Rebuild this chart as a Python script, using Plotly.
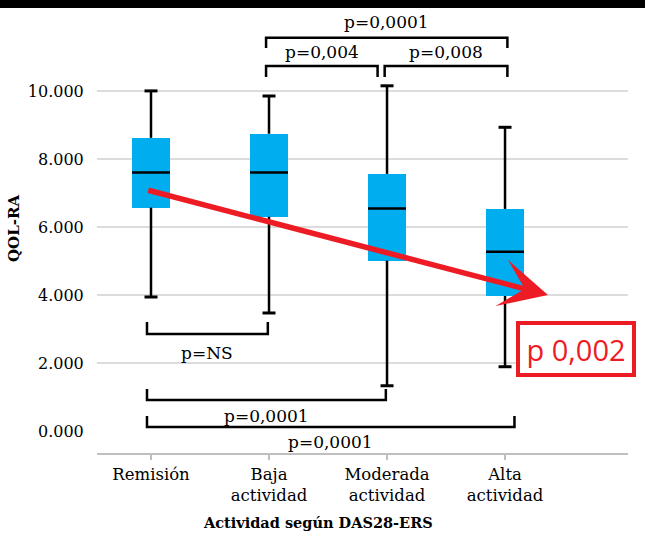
import plotly.graph_objects as go

# ---- data ----
categories = ["Remisión", "Baja<br>actividad", "Moderada<br>actividad", "Alta<br>actividad"]
q1 = [6.57, 6.30, 5.01, 3.97]
median = [7.60, 7.60, 6.54, 5.27]
q3 = [8.62, 8.74, 7.56, 6.53]
lower = [3.94, 3.47, 1.33, 1.89]
upper = [10.00, 9.85, 10.15, 8.93]
ytick_vals = [0, 2, 4, 6, 8, 10]
ytick_text = ["0.000", "2.000", "4.000", "6.000", "8.000", "10.000"]

# comparisons: (group a, group b, label)
top_pairs = [(1, 3, "p=0,0001"), (1, 2, "p=0,004"), (2, 3, "p=0,008")]
bottom_pairs = [(0, 1, "p=NS"), (0, 2, "p=0,0001"), (0, 3, "p=0,0001")]
trend_label = "p 0,002"

SERIF = "DejaVu Serif"
CYAN = "#00AEEF"
RED = "#ED1C24"

xs = list(range(len(categories)))
box_w = 0.322
cap_w = 0.11

fig = go.Figure()

# boxes (Q1..Q3)
fig.add_trace(go.Bar(
    x=xs, y=[b - a for a, b in zip(q1, q3)], base=q1, width=box_w,
    marker=dict(color=CYAN, line=dict(width=0)), hoverinfo="skip", showlegend=False))

# whiskers + caps
wx, wy = [], []
for i in xs:
    wx += [i, i, None, i, i, None]
    wy += [q3[i], upper[i], None, q1[i], lower[i], None]
fig.add_trace(go.Scatter(x=wx, y=wy, mode="lines", line=dict(color="black", width=2.5),
                         hoverinfo="skip", showlegend=False))
cx, cy = [], []
for i in xs:
    cx += [i - cap_w / 2, i + cap_w / 2, None, i - cap_w / 2, i + cap_w / 2, None]
    cy += [upper[i], upper[i], None, lower[i], lower[i], None]
fig.add_trace(go.Scatter(x=cx, y=cy, mode="lines", line=dict(color="black", width=3),
                         hoverinfo="skip", showlegend=False))
# medians
mx, my = [], []
for i in xs:
    mx += [i - box_w / 2, i + box_w / 2, None]
    my += [median[i], median[i], None]
fig.add_trace(go.Scatter(x=mx, y=my, mode="lines", line=dict(color="black", width=2.5),
                         hoverinfo="skip", showlegend=False))

shapes = []
annotations = []

# gridlines (no line at zero)
for v in ytick_vals[1:]:
    shapes.append(dict(type="line", xref="paper", x0=0, x1=1, yref="y", y0=v, y1=v,
                       line=dict(color="#D0D0D0", width=1.5), layer="below"))

# top black band
shapes.append(dict(type="rect", xref="paper", yref="paper", x0=-0.2, x1=1.1,
                   y0=1 + 4 / 441, y1=1.05, fillcolor="black", line=dict(width=0)))

def bracket(x0, x1, yh, yend):
    return dict(type="path", xref="x", yref="y",
                path=f"M {x0},{yend} L {x0},{yh} L {x1},{yh} L {x1},{yend}",
                line=dict(color="black", width=2.5))

LABEL_FONT = dict(family=SERIF, size=17, color="black")

# top brackets (opening downward)
top_geo = [(0.975, 3.02, 11.56, 11.26, 12.03),
           (0.975, 1.92, 10.735, 10.41, 11.15),
           (1.98, 3.02, 10.735, 10.41, 11.15)]
for (a, b, lab), (x0, x1, yh, ye, yt) in zip(top_pairs, top_geo):
    shapes.append(bracket(x0, x1, yh, ye))
    annotations.append(dict(x=(x0 + x1) / 2, y=yt, xref="x", yref="y", text=lab,
                            showarrow=False, font=LABEL_FONT))

# bottom brackets (opening upward)
bot_geo = [(-0.034, 0.99, 2.853, 3.206, 2.30),
           (-0.034, 1.99, 0.912, 1.236, 0.44),
           (-0.034, 3.08, 0.118, 0.44, -0.33)]
for (a, b, lab), (x0, x1, yh, ye, yt) in zip(bottom_pairs, bot_geo):
    shapes.append(bracket(x0, x1, yh, ye))
    annotations.append(dict(x=(x0 + x1) / 2, y=yt, xref="x", yref="y", text=lab,
                            showarrow=False, font=LABEL_FONT))

# trend arrow
annotations.append(dict(x=3.364, y=4.0, xref="x", yref="y", ax=-0.036, ay=7.09,
                        axref="x", ayref="y", text="", showarrow=True,
                        arrowhead=3, arrowsize=1.45, arrowwidth=5.5, arrowcolor=RED))
# p-value box
annotations.append(dict(x=3.60, y=2.41, xref="x", yref="y", text=trend_label, showarrow=False,
                        font=dict(family="Open Sans", size=29, color=RED),
                        bordercolor=RED, borderwidth=4, borderpad=2, bgcolor="white",
                        width=108, height=44))

# axis titles
annotations.append(dict(x=(14 - 97) / 531, y=0.508, xref="paper", yref="paper",
                        xanchor="center", yanchor="middle",
                        text="<b>QOL-RA</b>", textangle=-90, showarrow=False,
                        font=dict(family=SERIF, size=15, color="black")))
annotations.append(dict(x=1.415, y=(453 - 522) / 441, xref="x", yref="paper",
                        xanchor="center", yanchor="middle",
                        text="<b>Actividad según DAS28-ERS</b>", showarrow=False,
                        font=dict(family=SERIF, size=14.5, color="black")))

fig.update_layout(
    width=645, height=536,
    margin=dict(l=97, r=17, t=12, b=83),
    paper_bgcolor="white", plot_bgcolor="white",
    shapes=shapes, annotations=annotations,
    bargap=0,
    xaxis=dict(range=[-0.4576, 4.042], tickvals=xs, ticktext=categories,
               showgrid=False, zeroline=False, showline=True, linecolor="#BFBFBF", linewidth=1.5,
               ticks="outside", ticklen=5, tickcolor="#BFBFBF", tickwidth=1.5,
               tickfont=dict(family=SERIF, size=16.5, color="black")),
    yaxis=dict(range=[-0.647, 12.32], tickvals=ytick_vals, ticktext=ytick_text,
               showgrid=False, zeroline=False, showline=False,
               ticks="outside", ticklen=9, tickcolor="rgba(0,0,0,0)",
               tickfont=dict(family=SERIF, size=16, color="black")),
)

fig.write_html("out.html", config={"displayModeBar": False},
               post_script="document.body.style.margin='0px';")
